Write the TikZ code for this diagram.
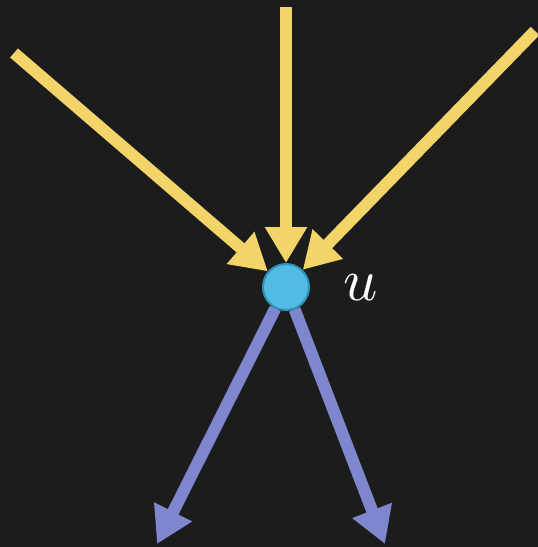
\documentclass[tikz,border=0pt]{standalone}
\usetikzlibrary{arrows.meta}
\definecolor{board}{HTML}{1C1C1C}
\definecolor{inedge}{HTML}{F3D469}
\definecolor{outedge}{HTML}{7E87CD}
\definecolor{vfill}{HTML}{52BBE3}
\definecolor{vline}{HTML}{2F93B5}
\tikzset{
  vertex/.style={circle,fill=vfill,draw=vline,line width=2pt,minimum size=46pt,inner sep=0pt},
  inarrow/.style={draw=inedge,line width=12pt,-{Triangle[length=36pt,width=40pt]}},
  outarrow/.style={draw=outedge,line width=12pt,-{Triangle[length=36pt,width=40pt]}}
}
\begin{document}
\begin{tikzpicture}[x=1pt,y=-1pt]
			\fill[board] (0,0) rectangle (538,547);
			\useasboundingbox (0,0) rectangle (538,547);
			\node[vertex] (u) at (286,287) {};
			\node[text=white,scale=6] (ulabel) at (361,288) {$u$};
			\coordinate (a) at (14,53);
			\coordinate (b) at (286,7);
			\coordinate (c) at (535,31);
			\coordinate (d) at (157,544);
			\coordinate (e) at (385,544);
			\draw[inarrow] (a) -- (u);
			\draw[inarrow] (b) -- (u);
			\draw[inarrow] (c) -- (u);
			\draw[outarrow] (u) -- (d);
			\draw[outarrow] (u) -- (e);
\end{tikzpicture}
\end{document}
